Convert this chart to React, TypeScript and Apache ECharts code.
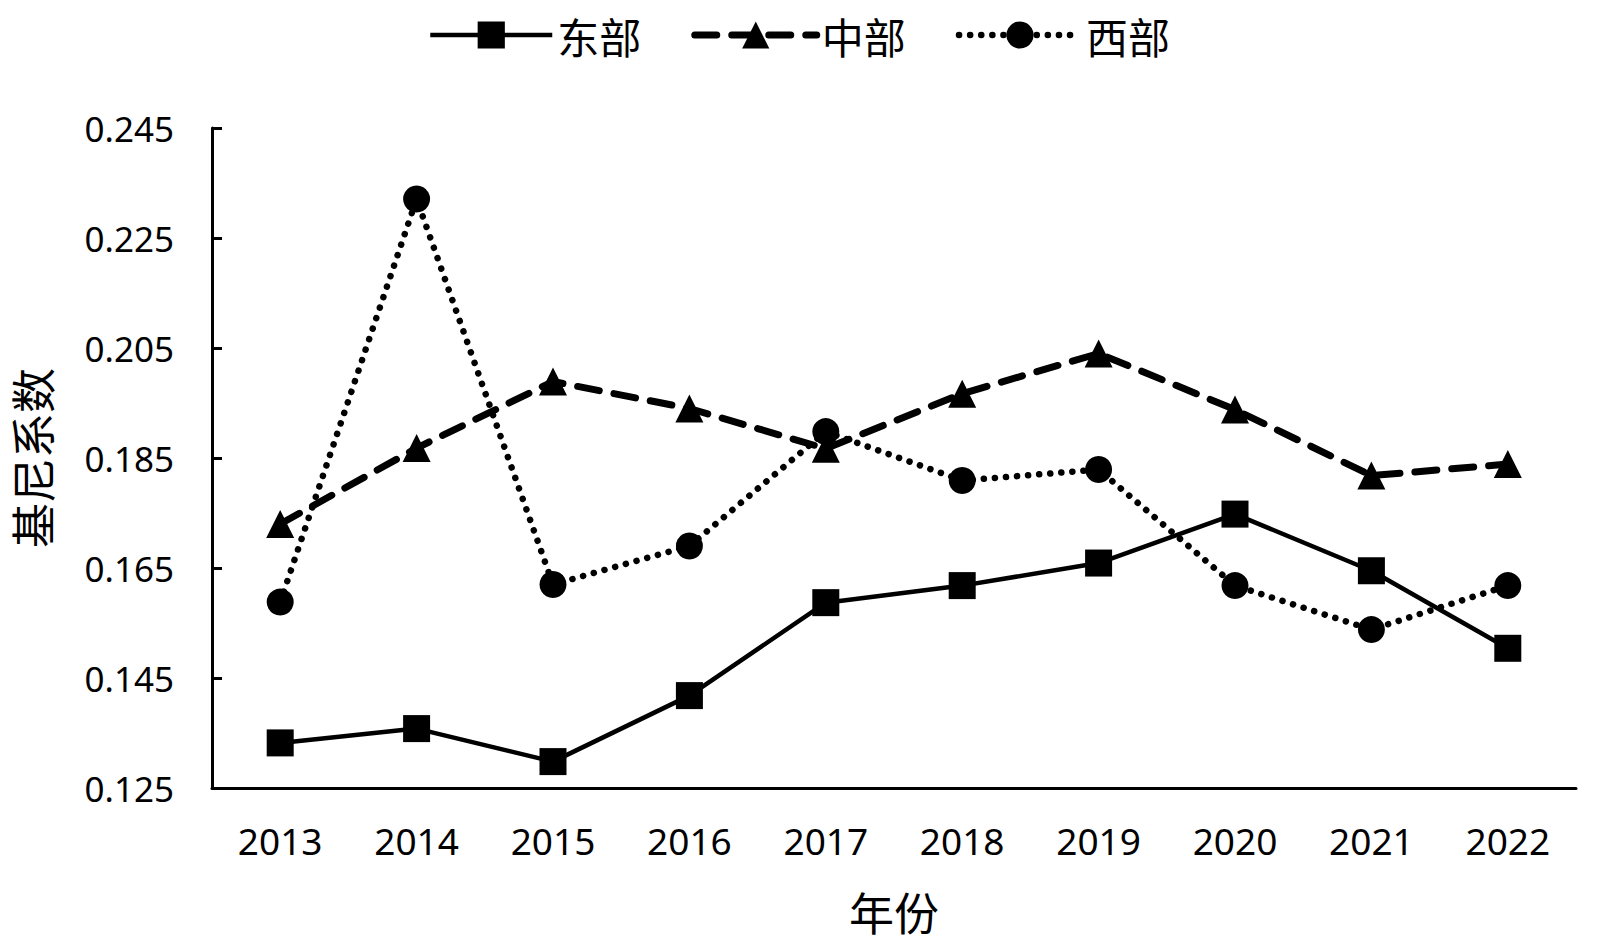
import React, { useEffect, useRef } from "react";
import * as echarts from "echarts";

const years = ["2013", "2014", "2015", "2016", "2017", "2018", "2019", "2020", "2021", "2022"];
const east = [0.1332, 0.1358, 0.1298, 0.1418, 0.1587, 0.1618, 0.1659, 0.1748, 0.1645, 0.1504];
const central = [0.173, 0.1868, 0.1989, 0.194, 0.1867, 0.1967, 0.204, 0.1938, 0.1818, 0.1839];
const west = [0.1588, 0.2321, 0.162, 0.169, 0.1898, 0.1809, 0.1829, 0.1618, 0.1538, 0.1618];

const seriesNames = ["东部", "中部", "西部"];
const yMin = 0.125;
const yMax = 0.245;
const yStep = 0.02;

const latin = "'Noto Sans', 'Noto Sans CJK SC', sans-serif";
const cjk = "'Noto Sans CJK SC', 'Noto Sans', sans-serif";

const eastLine = { color: "#000", width: 4.5 };
const centralLine = { color: "#000", width: 7, type: [22, 15], cap: "round" };
const westLine = { color: "#000", width: 6.5, type: [0.1, 11], cap: "round" };

export default function App() {
  const ref = useRef<HTMLDivElement>(null);
  useEffect(() => {
    document.body.style.margin = "0";
    const chart = echarts.init(ref.current!, null, { renderer: "svg" });
    chart.setOption({
      animation: false,
      backgroundColor: "#ffffff",
      legend: {
        left: 423,
        top: 9,
        itemWidth: 122,
        itemHeight: 34,
        itemGap: 50,
        textStyle: { fontFamily: cjk, fontSize: 42, color: "#000" },
        data: [
          { name: seriesNames[0], lineStyle: eastLine },
          { name: seriesNames[1], lineStyle: centralLine },
          { name: seriesNames[2], lineStyle: westLine },
        ],
      },
      grid: { left: 212, right: 24, top: 128, bottom: 156, outerBoundsMode: "none", containLabel: false },
      xAxis: {
        type: "category",
        data: years,
        boundaryGap: true,
        name: "年份",
        nameLocation: "middle",
        nameGap: 101,
        nameTextStyle: { fontFamily: cjk, fontSize: 45, color: "#000" },
        axisLine: { lineStyle: { color: "#000", width: 3 } },
        axisTick: { inside: true, alignWithLabel: true, length: 10, lineStyle: { color: "#000", width: 3 } },
        axisLabel: { fontFamily: latin, fontSize: 37, color: "#000", margin: 34 },
        splitLine: { show: false },
      },
      yAxis: {
        type: "value",
        min: yMin,
        max: yMax,
        interval: yStep,
        name: "基尼系数",
        nameLocation: "middle",
        nameRotate: 90,
        nameGap: 158,
        nameTextStyle: { fontFamily: cjk, fontSize: 45, lineHeight: 45, color: "#000" },
        axisLine: { show: true, lineStyle: { color: "#000", width: 3 } },
        axisTick: { show: true, inside: true, length: 10, lineStyle: { color: "#000", width: 3 } },
        axisLabel: {
          fontFamily: latin,
          fontSize: 35,
          color: "#000",
          margin: 38,
          formatter: (v: number) => v.toFixed(3),
        },
        splitLine: { show: false },
      },
      series: [
        {
          name: seriesNames[0],
          type: "line",
          data: east,
          symbol: "rect",
          symbolSize: 27,
          itemStyle: { color: "#000" },
          lineStyle: eastLine,
          z: 3,
        },
        {
          name: seriesNames[1],
          type: "line",
          data: central,
          symbol: "triangle",
          symbolSize: 28,
          itemStyle: { color: "#000" },
          lineStyle: centralLine,
          z: 2,
        },
        {
          name: seriesNames[2],
          type: "line",
          data: west,
          symbol: "circle",
          symbolSize: 27,
          itemStyle: { color: "#000" },
          lineStyle: westLine,
          z: 1,
        },
      ],
    });
    return () => chart.dispose();
  }, []);
  return <div ref={ref} style={{ width: 1600, height: 944 }} />;
}
